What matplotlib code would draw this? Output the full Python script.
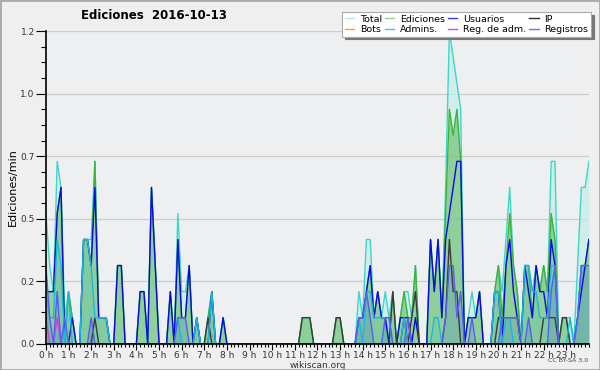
import numpy as np
import matplotlib
matplotlib.use('Agg')
import matplotlib.pyplot as plt
from matplotlib.lines import Line2D
from matplotlib.ticker import MultipleLocator

# ediciones por minuto, en intervalos de 10 minutos (0:00 .. 24:00)
total = [0.5, 0.3, 0.2, 0.7, 0.6, 0.1,  0.2, 0.1, 0, 0, 0.4, 0.4,
         0.4, 0.7, 0.1, 0.1, 0.1, 0,    0, 0.3, 0.3, 0, 0, 0,
         0, 0.2, 0.2, 0, 0.6, 0.3,      0, 0, 0, 0.2, 0, 0.5,
         0.2, 0.2, 0.3, 0, 0.1, 0,      0, 0.1, 0.2, 0, 0, 0.1,
         0, 0, 0, 0, 0, 0,              0, 0, 0, 0, 0, 0,
         0, 0, 0, 0, 0, 0,              0, 0, 0.1, 0.1, 0.1, 0,
         0, 0, 0, 0, 0, 0.1,            0.1, 0, 0, 0, 0, 0.2,
         0.1, 0.4, 0.4, 0.1, 0.2, 0.1,  0.2, 0.1, 0.2, 0, 0.1, 0.2,
         0.2, 0.1, 0.3, 0, 0, 0,        0.4, 0.2, 0.4, 0.1, 0.6, 1.2,
         1.1, 1.0, 0.9, 0, 0.1, 0.2,    0.1, 0.2, 0, 0, 0, 0.2,
         0.3, 0.2, 0.4, 0.6, 0.3, 0.2,  0, 0.3, 0.3, 0.2, 0.3, 0.2,
         0.3, 0.2, 0.7, 0.7, 0, 0.1,    0.1, 0.1, 0, 0.3, 0.6, 0.6,
         0.7]
ediciones = [0.2, 0.2, 0.2, 0.5, 0.6, 0,  0.2, 0.1, 0, 0, 0.4, 0.4,
             0.3, 0.7, 0.1, 0.1, 0.1, 0,  0, 0.3, 0.3, 0, 0, 0,
             0, 0.2, 0.2, 0, 0.6, 0.3,    0, 0, 0, 0.2, 0, 0.4,
             0.1, 0.1, 0.3, 0, 0.1, 0,    0, 0.1, 0.2, 0, 0, 0.1,
             0, 0, 0, 0, 0, 0,            0, 0, 0, 0, 0, 0,
             0, 0, 0, 0, 0, 0,            0, 0, 0.1, 0.1, 0.1, 0,
             0, 0, 0, 0, 0, 0.1,          0.1, 0, 0, 0, 0, 0.1,
             0.1, 0.2, 0.3, 0.1, 0.2, 0.1,  0.1, 0, 0.2, 0, 0.1, 0.2,
             0.1, 0.1, 0.3, 0, 0, 0,      0.4, 0.2, 0.4, 0.1, 0.5, 0.9,
             0.8, 0.9, 0.7, 0, 0.1, 0.1,  0.1, 0.2, 0, 0, 0, 0.2,
             0.3, 0.1, 0.3, 0.5, 0.3, 0.2,  0, 0.3, 0.3, 0.1, 0.3, 0.2,
             0.3, 0.2, 0.5, 0.4, 0, 0.1,  0.1, 0, 0, 0.1, 0.3, 0.3,
             0.4]
usuarios = [0.2, 0.2, 0.2, 0.5, 0.6, 0,  0, 0.1, 0, 0, 0.4, 0.4,
            0.3, 0.6, 0.1, 0.1, 0.1, 0,  0, 0.3, 0.3, 0, 0, 0,
            0, 0.2, 0.2, 0, 0.6, 0.3,    0, 0, 0, 0.2, 0, 0.4,
            0.1, 0.1, 0.3, 0, 0.1, 0,    0, 0, 0.2, 0, 0, 0.1,
            0, 0, 0, 0, 0, 0,            0, 0, 0, 0, 0, 0,
            0, 0, 0, 0, 0, 0,            0, 0, 0, 0, 0, 0,
            0, 0, 0, 0, 0, 0,            0, 0, 0, 0, 0, 0.1,
            0.1, 0.2, 0.3, 0.1, 0.2, 0.1,  0.1, 0, 0, 0, 0.1, 0.1,
            0.1, 0, 0.1, 0, 0, 0,        0.4, 0.2, 0.4, 0.1, 0.4, 0.5,
            0.6, 0.7, 0.7, 0, 0.1, 0.1,  0.1, 0.2, 0, 0, 0, 0.2,
            0.2, 0, 0.3, 0.4, 0.2, 0.1,  0, 0.3, 0.2, 0.1, 0.3, 0.2,
            0.2, 0.1, 0.4, 0.3, 0, 0,    0, 0, 0, 0.1, 0.2, 0.3,
            0.4]
ip = [0, 0, 0, 0, 0, 0,  0, 0, 0, 0, 0, 0,
      0, 0.1, 0, 0, 0, 0,  0, 0, 0, 0, 0, 0,
      0, 0, 0, 0, 0, 0,  0, 0, 0, 0, 0, 0,
      0, 0, 0, 0, 0, 0,  0, 0.1, 0, 0, 0, 0,
      0, 0, 0, 0, 0, 0,  0, 0, 0, 0, 0, 0,
      0, 0, 0, 0, 0, 0,  0, 0, 0.1, 0.1, 0.1, 0,
      0, 0, 0, 0, 0, 0.1,  0.1, 0, 0, 0, 0, 0,
      0, 0, 0, 0, 0, 0,  0, 0, 0.2, 0, 0, 0.1,
      0, 0.1, 0.2, 0, 0, 0,  0, 0, 0, 0, 0.1, 0.4,
      0.2, 0.2, 0, 0, 0, 0,  0, 0, 0, 0, 0, 0,
      0.1, 0.1, 0.1, 0.1, 0.1, 0.1,  0, 0, 0, 0, 0, 0,
      0.1, 0.1, 0.1, 0.1, 0, 0.1,  0.1, 0, 0, 0, 0, 0,
      0]
bots = [0] * 145
admins = [0.2, 0.1, 0.1, 0.4, 0.3, 0,  0.2, 0, 0, 0, 0.4, 0.4,
          0.3, 0.1, 0.1, 0.1, 0.1, 0,  0, 0, 0, 0, 0, 0,
          0, 0, 0, 0, 0, 0,  0, 0, 0, 0, 0, 0.1,
          0, 0, 0, 0, 0.1, 0,  0, 0, 0.2, 0, 0, 0,
          0, 0, 0, 0, 0, 0,  0, 0, 0, 0, 0, 0,
          0, 0, 0, 0, 0, 0,  0, 0, 0, 0, 0, 0,
          0, 0, 0, 0, 0, 0,  0, 0, 0, 0, 0, 0.1,
          0, 0.2, 0.2, 0.1, 0.1, 0.1,  0.1, 0.1, 0, 0, 0, 0.1,
          0, 0, 0, 0, 0, 0,  0, 0.1, 0.1, 0, 0, 0,
          0, 0, 0, 0, 0, 0,  0, 0, 0, 0, 0, 0.2,
          0.2, 0, 0.1, 0.1, 0, 0,  0, 0.3, 0.3, 0.2, 0.2, 0.1,
          0.1, 0.1, 0.3, 0.3, 0, 0,  0, 0.1, 0, 0.1, 0.3, 0.3,
          0.3]
reg_adm = [0.1, 0, 0, 0.1, 0, 0] + [0] * 139
registros = [0.3, 0.1, 0, 0.2, 0, 0.1,  0, 0, 0, 0, 0, 0,
             0.1, 0, 0, 0, 0, 0,  0, 0, 0, 0, 0, 0,
             0, 0, 0, 0, 0, 0,  0, 0, 0, 0, 0, 0.1,
             0.1, 0.1, 0, 0, 0, 0,  0, 0, 0, 0, 0, 0,
             0, 0, 0, 0, 0, 0,  0, 0, 0, 0, 0, 0,
             0, 0, 0, 0, 0, 0,  0, 0, 0, 0, 0, 0,
             0, 0, 0, 0, 0, 0,  0, 0, 0, 0, 0, 0.1,
             0.1, 0.2, 0.1, 0, 0, 0,  0.1, 0.1, 0, 0, 0, 0,
             0.1, 0, 0, 0, 0, 0,  0, 0, 0, 0, 0.1, 0.3,
             0.3, 0.1, 0.2, 0, 0, 0.1,  0, 0, 0, 0, 0, 0,
             0, 0.1, 0.1, 0.1, 0.1, 0.1,  0, 0, 0.1, 0, 0, 0,
             0, 0, 0.2, 0.3, 0, 0,  0, 0, 0, 0.1, 0.3, 0.3,
             0.3]

horas = np.arange(len(total)) / 6.0
hour_labels = ['%d h' % h for h in range(24)]

bg = '#eeeff1'
fig = plt.figure(figsize=(6, 3.7), dpi=100, facecolor='#efefef')
ax = fig.add_axes([0.0765, 0.071, 0.905, 0.845])
ax.set_facecolor(bg)

# rellenos
ax.fill_between(horas, total, color='#c4eee6', alpha=0.7, lw=0)
ax.fill_between(horas, ediciones, color='#5ab85a', alpha=0.55, lw=0)
ax.fill_between(horas, admins, color='#2aa0d0', alpha=0.12, lw=0)
ax.fill_between(horas, registros, color='#3a6ad0', alpha=0.2, lw=0)

# lineas
ax.plot(horas, total, color='#3fd6c6', lw=1.0)
ax.plot(horas, ediciones, color='#3cb43c', lw=1.0)
ax.plot(horas, usuarios, color='#0a0ae0', lw=1.0)
ax.plot(horas, ip, color='#3a3a3a', lw=1.0)
ax.plot(horas, bots, color='#ff9f3a', lw=1.0, alpha=0)
ax.plot(horas, admins, color='#1ab8e0', lw=1.0)
ax.plot(horas, reg_adm, color='#d040e0', lw=1.0)
ax.plot(horas, registros, color='#5c5cf2', lw=1.0)

ax.set_xlim(0, 24)
ax.set_ylim(0, 1.2)
ax.set_xticks(range(24))
ax.set_xticklabels(hour_labels)
ax.xaxis.set_minor_locator(MultipleLocator(1 / 6.0))
yt = np.linspace(0, 1.2, 6)
ax.set_yticks(yt)
ax.set_yticklabels(['%.1f' % v for v in yt])
ax.yaxis.set_minor_locator(MultipleLocator(0.06))
ax.tick_params(axis='both', which='major', labelsize=6.5, labelcolor='#333333', width=0.8)
ax.tick_params(axis='y', which='major', length=7, pad=1)
ax.tick_params(axis='y', which='minor', length=3.5, width=0.8)
ax.tick_params(axis='x', which='major', length=4, pad=1)
ax.tick_params(axis='x', which='minor', length=2.5, width=0.8)
ax.grid(axis='y', which='major', color='#cccccc', lw=0.9)
ax.set_axisbelow(True)
for s in ['top', 'right']:
    ax.spines[s].set_visible(False)
ax.spines['left'].set_linewidth(1.2)
ax.spines['bottom'].set_linewidth(1.2)

ax.set_ylabel('Ediciones/min', fontsize=8, labelpad=2)
ax.set_xlabel('wikiscan.org', fontsize=6.5, color='#333333', labelpad=1)
fig.text(0.256, 0.957, 'Ediciones  2016-10-13', fontsize=8.5, weight='bold',
         ha='center', va='center')
fig.text(0.98, 0.025, 'CC BY-SA 3.0', fontsize=4.5, color='#444444', ha='right', va='center')

# leyenda (orden por columnas)
etiquetas = ['Total', 'Bots', 'Ediciones', 'Admins.', 'Usuarios', 'Reg. de adm.', 'IP', 'Registros']
colores = ['#b5ebe3', '#ffa040', '#8fd48f', '#3ccbe0', '#3a3ae6', '#d050e0', '#303030', '#7070f0']
handles = [Line2D([0], [0], color=c, lw=1.0) for c in colores]
leg = fig.legend(handles, etiquetas, ncol=4, loc='upper right', bbox_to_anchor=(0.985, 0.968),
                 fontsize=6.8, frameon=True, fancybox=False, shadow={'color': '#777777', 'alpha': 1},
                 handlelength=1.0, handletextpad=0.6, columnspacing=0.3, labelspacing=0.12,
                 borderpad=0.3, borderaxespad=0)
leg.get_frame().set_edgecolor('#aaaaaa')
leg.get_frame().set_facecolor('white')
leg.get_frame().set_linewidth(0.8)

# borde de la figura
fig.patches.append(plt.Rectangle((0, 0), 1, 1, transform=fig.transFigure, fill=False,
                                 edgecolor='#aaaaaa', lw=2))

fig.savefig('out.png', dpi=100, facecolor=fig.get_facecolor())
